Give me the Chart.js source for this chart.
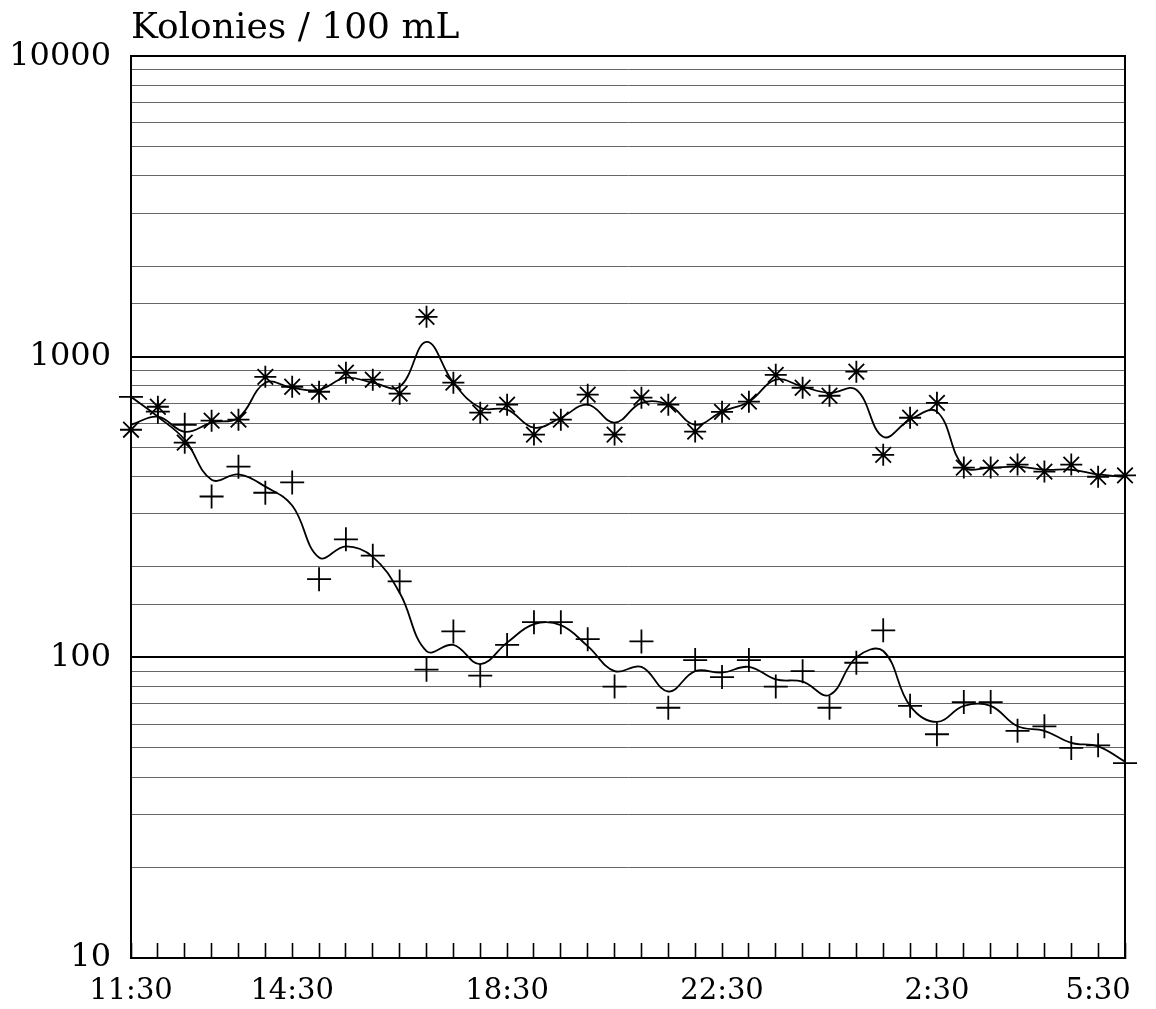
<!DOCTYPE html>
<html>
<head>
<meta charset="utf-8">
<title>Kolonies / 100 mL</title>
<script src="https://cdn.jsdelivr.net/npm/chart.js@4.4.1/dist/chart.umd.min.js"></script>
<style>
	html, body { margin: 0; padding: 0; background: #fff; }
	canvas { display: block; }
</style>
</head>
<body>
<canvas id="mycanvas" width="1156" height="1009"></canvas>
<script>
// sample times, every half hour
var times = ['11:30','12:00','12:30','13:00','13:30','14:00','14:30','15:00','15:30','16:00',
	'16:30','17:00','17:30','18:00','18:30','19:00','19:30','20:00','20:30','21:00',
	'21:30','22:00','22:30','23:00','23:30','0:00','0:30','1:00','1:30','2:00',
	'2:30','3:00','3:30','4:00','4:30','5:00','5:30','6:00'];
var shownTimes = ['11:30','14:30','18:30','22:30','2:30','5:30'];
var yLabels = [10, 100, 1000, 10000];

// asterisk series: measured counts and fitted curve
var starPoints = [572, 682, 518, 613, 618, 858, 795, 765, 885, 839, 754, 1358, 820, 652, 693, 551, 618, 748, 551, 731,
	693, 564, 656, 709, 871, 789, 742, 892, 472, 627, 703, 428, 428, 438, 415, 438, 399, 403];
var starCurve = [594, 632, 563, 604, 627, 820, 789, 777, 852, 820, 795, 1121, 820, 677, 667, 581, 627, 693, 604, 703,
	693, 594, 657, 709, 839, 795, 759, 777, 542, 618, 657, 431, 428, 431, 421, 421, 406, 399];

// plus series: measured counts and fitted curve
var plusPoints = [736, 657, 594, 343, 431, 353, 382, 182, 247, 218, 179, 91, 122, 87, 110, 131, 131, 115, 80, 113,
	68, 98, 86, 98, 80, 90, 68, 96, 123, 69, 55.5, 71, 71, 57, 59, 50, 51, 44.5];
var plusCurve = [736, 632, 530, 390, 406, 370, 320, 215, 234, 216, 164, 105, 110, 95, 112, 129, 128, 109, 90, 93,
	77, 90, 89, 93, 84.5, 83, 75, 100, 105, 69, 61, 69, 69, 59, 57, 52, 50.6, 45];

function toXY(arr) {
	var out = [];
	for (var i in arr) {
		out.push({x: Number(i), y: arr[i]});
	}
	return out;
}

function isDecade(v) {
	var l = Math.log10(v);
	return Math.abs(l - Math.round(l)) < 1e-9;
}

var serif = 'DejaVu Serif';

var chartdata = {
	datasets: [
		{
			label: 'asterisk curve',
			data: toXY(starCurve),
			borderColor: '#000',
			borderWidth: 1.8,
			pointRadius: 0,
			tension: 0.4,
			fill: false
		},
		{
			label: 'asterisk',
			data: toXY(starPoints),
			showLine: false,
			pointStyle: 'star',
			pointRadius: 11,
			pointBorderWidth: 1.8,
			pointBorderColor: '#000',
			borderColor: '#000',
			clip: false
		},
		{
			label: 'plus curve',
			data: toXY(plusCurve),
			borderColor: '#000',
			borderWidth: 1.8,
			pointRadius: 0,
			tension: 0.4,
			fill: false
		},
		{
			label: 'plus',
			data: toXY(plusPoints),
			showLine: false,
			pointStyle: 'cross',
			pointRadius: 12,
			pointBorderWidth: 1.8,
			pointBorderColor: '#000',
			borderColor: '#000',
			clip: false
		}
	]
};

var ctx = document.getElementById('mycanvas');

var colonyChart = new Chart(ctx, {
	type: 'line',
	data: chartdata,
	options: {
		responsive: false,
		devicePixelRatio: 1,
		animation: false,
		layout: { padding: 0 },
		plugins: {
			legend: { display: false },
			tooltip: { enabled: false },
			title: {
				display: true,
				text: 'Kolonies / 100 mL',
				align: 'start',
				fullSize: false,
				color: '#000',
				font: { family: serif, size: 36, weight: 'normal' },
				padding: { top: 7, bottom: 6 }
			}
		},
		scales: {
			x: {
				type: 'linear',
				position: 'bottom',
				min: 0,
				max: times.length - 1,
				grid: {
					display: true,
					drawOnChartArea: false,
					drawTicks: true,
					tickLength: -15,
					tickColor: '#000',
					tickWidth: 1.6
				},
				border: { display: true, color: '#000', width: 2 },
				ticks: {
					stepSize: 1,
					autoSkip: false,
					maxRotation: 0,
					padding: 31,
					color: '#000',
					font: { family: serif, size: 29 },
					callback: function(v) {
						var t = times[v];
						return shownTimes.indexOf(t) >= 0 ? t : '';
					}
				},
				afterFit: function(s) { s.height = 51; }
			},
			y: {
				type: 'logarithmic',
				min: yLabels[0],
				max: yLabels[yLabels.length - 1],
				grid: {
					drawTicks: false,
					color: function(c) { return isDecade(c.tick.value) ? '#000' : '#666'; },
					lineWidth: function(c) { return isDecade(c.tick.value) ? 2 : 1; }
				},
				border: { color: '#000', width: 2 },
				ticks: {
					autoSkip: false,
					padding: 20,
					color: '#000',
					font: { family: serif, size: 32 },
					callback: function(v) {
						return yLabels.indexOf(v) >= 0 ? String(v) : '';
					}
				},
				afterFit: function(s) { s.width = 131; }
			},
			yRight: {
				type: 'linear',
				position: 'right',
				grid: { display: true, drawOnChartArea: false, drawTicks: false },
				ticks: { display: false },
				border: { display: true, color: '#000', width: 2 },
				afterFit: function(s) { s.width = 26; }
			}
		}
	}
});
</script>
</body>
</html>
